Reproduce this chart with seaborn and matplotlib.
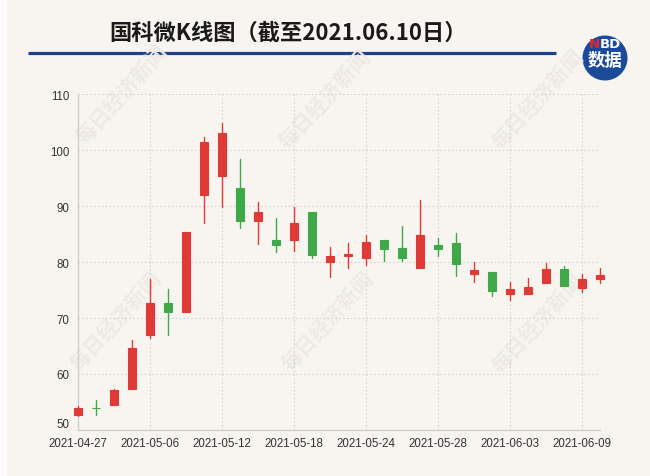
import numpy as np
import pandas as pd
import matplotlib
matplotlib.use("Agg")
import matplotlib.pyplot as plt
import matplotlib.patches as mpatches
import seaborn as sns

# ---------------- data ----------------
dates = ["2021-04-27", "2021-04-28", "2021-04-29", "2021-04-30", "2021-05-06",
         "2021-05-07", "2021-05-10", "2021-05-11", "2021-05-12", "2021-05-13",
         "2021-05-14", "2021-05-17", "2021-05-18", "2021-05-19", "2021-05-20",
         "2021-05-21", "2021-05-24", "2021-05-25", "2021-05-26", "2021-05-27",
         "2021-05-28", "2021-05-31", "2021-06-01", "2021-06-02", "2021-06-03",
         "2021-06-04", "2021-06-07", "2021-06-08", "2021-06-09", "2021-06-10"]
open_ = [52.6, 54.0, 54.5, 57.3, 67.0, 72.7, 71.0, 92.0, 95.3, 93.2,
         87.4, 83.9, 84.0, 88.9, 80.0, 81.0, 80.7, 84.0, 82.5, 78.9,
         83.0, 83.4, 77.9, 78.3, 74.2, 74.2, 76.25, 78.8, 75.4, 76.9]
close = [53.9, 53.9, 57.1, 64.6, 72.7, 71.1, 85.4, 101.5, 103.0, 87.4,
         88.9, 83.0, 87.0, 81.3, 81.1, 81.5, 83.5, 82.3, 80.7, 84.9,
         82.3, 79.6, 78.6, 74.8, 75.2, 75.5, 78.7, 75.7, 77.0, 77.6]
high = [54.2, 55.4, 57.3, 66.0, 77.0, 75.1, 85.4, 102.4, 104.9, 98.4,
        90.7, 87.9, 89.9, 88.9, 82.6, 83.4, 84.9, 84.0, 86.5, 91.0,
        84.3, 85.2, 80.0, 78.3, 76.4, 77.2, 79.9, 79.3, 77.9, 78.9]
low = [52.5, 52.7, 54.4, 57.3, 66.4, 67.0, 71.0, 87.0, 89.9, 86.1,
       83.2, 81.8, 82.0, 80.8, 77.3, 79.0, 79.5, 80.1, 80.1, 78.9,
       81.1, 77.5, 76.4, 74.0, 73.3, 74.2, 76.25, 75.7, 74.6, 76.2]
yticks = [50, 60, 70, 80, 90, 100, 110]
tick_idx = [0, 4, 8, 12, 16, 20, 24, 28]

title = "国科微K线图（截至2021.06.10日）"
watermark = "每日经济新闻"

RED = "#e03a36"
GREEN = "#3fa94a"
BG = "#f8f5f0"

sns.set_theme(style="ticks")
plt.rcParams["font.family"] = ["Liberation Sans", "Noto Sans CJK SC", "DejaVu Sans"]

W, H = 650, 477
fig = plt.figure(figsize=(W / 100, H / 100), dpi=100)
fig.patch.set_facecolor(BG)

# background / decoration axes in pixel coordinates
bg = fig.add_axes([0, 0, 1, 1], zorder=0)
bg.set_xlim(0, W)
bg.set_ylim(H, 0)
bg.axis("off")
bg.add_patch(mpatches.Rectangle((0, 0), 7, H, color="#fdfcfa", lw=0))

for (cx, cy) in [(122, 95), (325, 100), (538, 100), (116, 322), (328, 322), (538, 324)]:
    bg.text(cx, cy, watermark, rotation=48, ha="center", va="center",
            fontsize=15, color="#eee9e3", family=["Noto Sans CJK SC"], fontweight="bold")

bg.text(288.5, 33, title, ha="center", va="center", fontsize=16, fontweight="bold",
        color="#1a1a1a", family=["Noto Sans CJK SC", "DejaVu Sans"])
bg.plot([28, 556], [54.3, 54.3], color="#1e3f8c", lw=2.3, solid_capstyle="butt")

bg.add_patch(mpatches.Circle((605, 59), 22.5, color="#1c4a9b", lw=0))
bg.text(599.5, 44.5, "N", ha="right", va="center", fontsize=9.5, fontweight="bold",
        color="#e5262b", family=["DejaVu Sans"])
bg.text(599.5, 44.5, "BD", ha="left", va="center", fontsize=9.5, fontweight="bold",
        color="white", family=["DejaVu Sans"])
bg.text(605, 60.5, "数据", ha="center", va="center", fontsize=12.5, fontweight="bold",
        color="white", family=["Noto Sans CJK SC"])

# ---------------- main chart ----------------
left, right, top, bottom = 77.7, 600, 95, 431
ax = fig.add_axes([left / W, 1 - bottom / H, (right - left) / W, (bottom - top) / H], zorder=1)
ax.set_facecolor("none")

x = np.arange(len(dates))
o = np.array(open_)
c = np.array(close)
up = c >= o
direction = np.where(up, "up", "down")

wick_df = pd.DataFrame({
    "idx": np.concatenate([x, x]),
    "price": np.concatenate([high, low]),
    "dir": np.concatenate([direction, direction]),
})
sns.lineplot(data=wick_df, x="idx", y="price", units="idx", estimator=None,
             hue="dir", palette={"up": RED, "down": GREEN}, legend=False,
             lw=1.0, sort=False, ax=ax, clip_on=False, zorder=3)

body_bottom = np.minimum(o, c)
body_height = np.abs(c - o)
colors = [RED if u else GREEN for u in up]
ax.bar(x, body_height, bottom=body_bottom, width=0.44, color=colors,
       edgecolor=colors, linewidth=0.8, clip_on=False, zorder=4)

ax.set_xlim(0, 29)
ax.set_ylim(50, 110)
ax.set_yticks(yticks)
ax.set_xticks(tick_idx)
ax.set_xticklabels([dates[i] for i in tick_idx])
ax.set_xlabel("")
ax.set_ylabel("")

ax.grid(True, linestyle=(0, (1.5, 2)), color="#d6d3ce", lw=0.8)
ax.set_axisbelow(True)
for s in ["top", "right"]:
    ax.spines[s].set_visible(False)
for s in ["left", "bottom"]:
    ax.spines[s].set_color("#cfcbc6")
    ax.spines[s].set_linewidth(0.9)
ax.tick_params(axis="both", length=0, labelsize=8.3, colors="#333333")
ax.tick_params(axis="x", pad=5)
ax.tick_params(axis="y", pad=6)
for lbl in ax.get_yticklabels():
    if lbl.get_text() == "50":
        lbl.set_va("bottom")

fig.savefig("out.png", dpi=100, facecolor=BG)
